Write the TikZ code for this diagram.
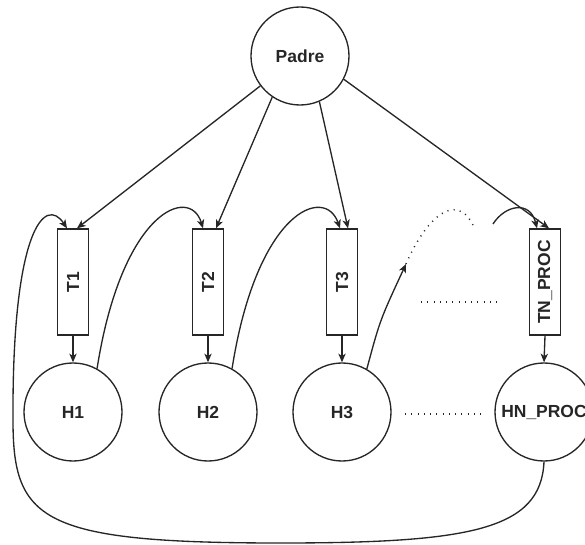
\documentclass[tikz,border=0pt]{standalone}
\usepackage{fontspec}
\setmainfont{Liberation Sans}
\usetikzlibrary{arrows.meta}
\definecolor{ink}{RGB}{38,38,38}
\begin{document}
\begin{tikzpicture}[x=0.75pt,y=-0.75pt,
  every node/.style={font=\fontsize{13.1pt}{15pt}\selectfont\bfseries, text=ink},
  circ/.style={draw=ink, line width=1pt, circle, minimum size=73.5pt, inner sep=0pt},
  tbox/.style={draw=ink, line width=1pt, rectangle, minimum width=23.25pt, minimum height=79.5pt, inner sep=0pt},
  conn/.style={draw=ink, line width=1pt, -{Stealth[length=6.5pt,width=5.5pt,inset=1.8pt]}},
  plain/.style={draw=ink, line width=1pt},
  dots/.style={draw=ink, line width=1.1pt, dash pattern=on 0.8pt off 3.9pt}]
\useasboundingbox (0,0) rectangle (585,545);
\node[circ] (padre) at (300,56) {Padre};
\node[tbox] (t1) at (73,282) {\rotatebox{90}{T1}};
\node[tbox] (t2) at (208,282) {\rotatebox{90}{T2}};
\node[tbox] (t3) at (342,282) {\rotatebox{90}{T3}};
\node[tbox] (tn) at (545,282) {\rotatebox{90}{TN\_PROC}};
\node[circ] (h1) at (73,412) {H1};
\node[circ] (h2) at (208,412) {H2};
\node[circ] (h3) at (342,412) {H3};
\node[circ] (hn) at (544,412) {HN\_PROC};
% Padre to threads
\draw[conn] (padre.217) -- ([xshift=3pt]t1.north);
\draw[conn] (padre.236) -- ([xshift=6pt]t2.north);
\draw[conn] (padre.293) -- ([xshift=4.5pt]t3.north);
\draw[conn] (padre.332) -- ([xshift=3pt]tn.north);
% threads to children
\draw[conn] (t1.south) -- (h1.north);
\draw[conn] (t2.south) -- (h2.north);
\draw[conn] (t3.south) -- (h3.north);
\draw[conn] (tn.south) -- (hn.north);
% children to next thread
\draw[conn] (h1.61) .. controls (122,210) and (190,185) .. ([xshift=-3.75pt]t2.north);
\draw[conn] (h2.61) .. controls (257,210) and (325,185) .. ([xshift=-1.5pt]t3.north);
\coordinate (d1) at (406,264);
\coordinate (d2) at (473,225);
\coordinate (d3) at (493,224);
\draw[conn] (h3.60) .. controls (380,320) .. (d1);
\draw[dots] (d1) .. controls (425,220) and (455,190) .. (d2);
\draw[conn] (d3) .. controls (505,205) and (530,200) .. ([xshift=-6pt]tn.north);
% big loop
\draw[conn] (hn.south) .. controls (541,530) and (470,543) .. (280,543)
  .. controls (40,543) and (13,520) .. (13,420)
  .. controls (12,230) and (45,195) .. ([xshift=-4.5pt]t1.north);
% ellipses
\coordinate (e1) at (421,302);
\coordinate (e2) at (497,302);
\coordinate (e3) at (405,414);
\coordinate (e4) at (482,414);
\draw[dots] (e1) -- (e2);
\draw[dots] (e3) -- (e4);
\end{tikzpicture}
\end{document}
